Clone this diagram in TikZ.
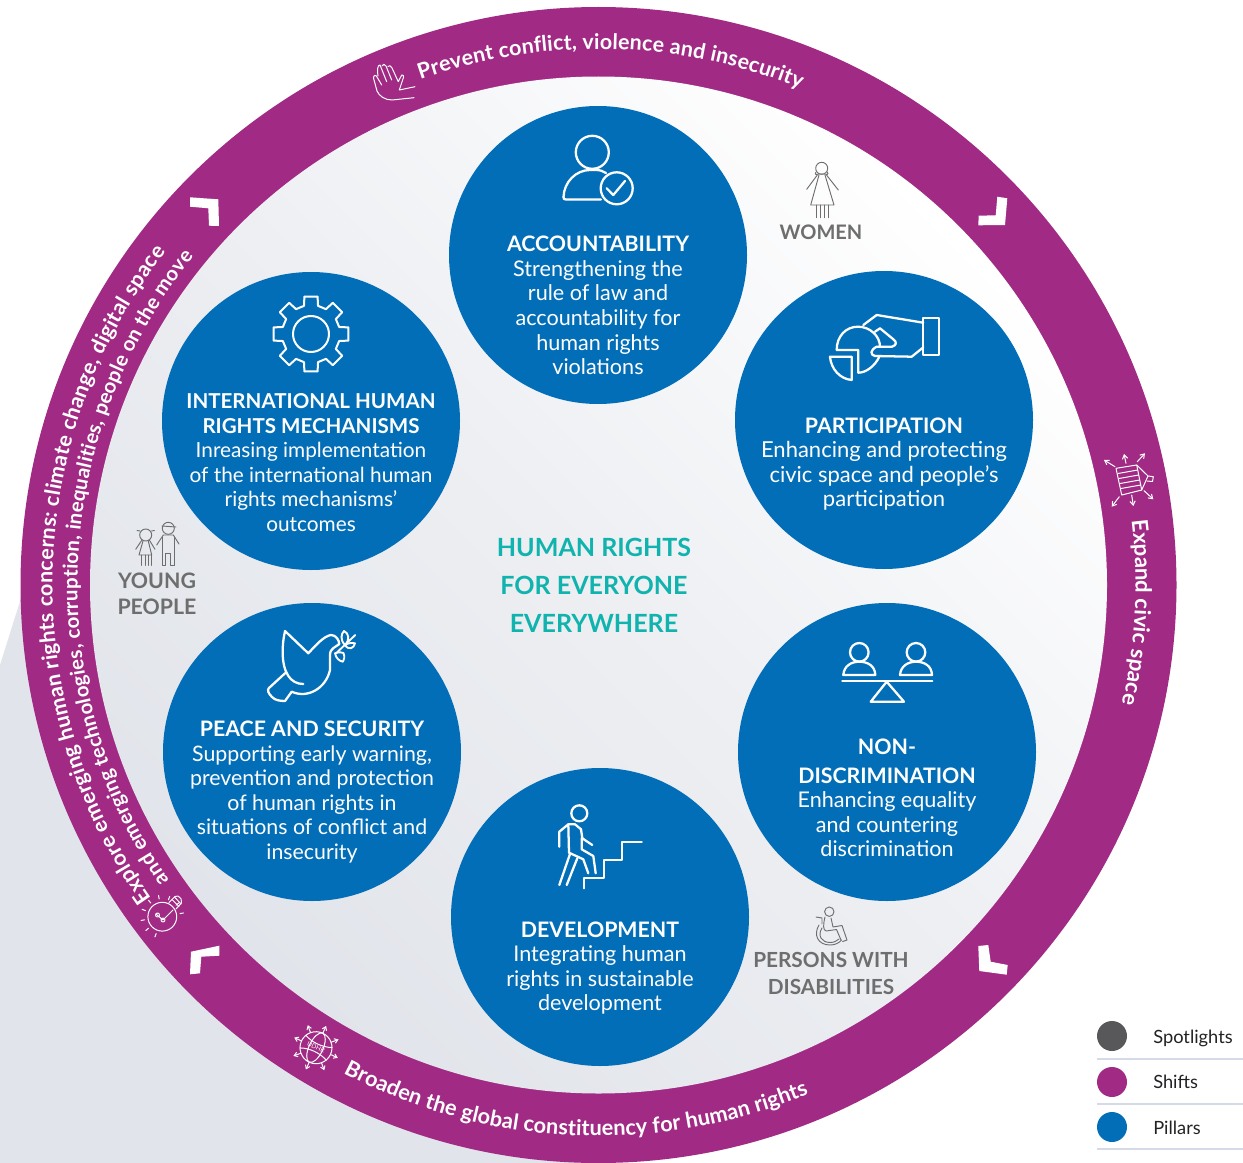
\documentclass[tikz,border=0pt]{standalone}
\usepackage{fontspec}
\setmainfont{Lato}
\usetikzlibrary{decorations.text,arrows.meta}
\definecolor{shift}{HTML}{A12A84}
\definecolor{pillarblue}{HTML}{036EB8}
\definecolor{teal}{HTML}{10B3AD}
\definecolor{spot}{HTML}{6E6E6E}
\definecolor{spotdot}{HTML}{58585A}
\definecolor{paleground}{HTML}{E1E4EA}
\definecolor{rulegrey}{HTML}{D5DAE6}
\definecolor{inkdark}{HTML}{222222}
\newcommand\ptitle[2][16]{{\fontsize{#1}{18.4}\selectfont\bfseries #2}}
\newcommand\ringline[5]{\path[decorate,decoration={text along path,text align={fit to path},text={|\fontsize{#5}{18}\selectfont\bfseries\color{white}|#4}}] (#1:#3) arc[start angle=#1,end angle=#2,radius=#3];}
\tikzset{
 pillar/.style={circle,fill=pillarblue,minimum size=223.5pt,inner sep=0pt},
 pillartext/.style={text=white,align=center,inner sep=0pt,font=\fontsize{16.2}{18.4}\selectfont},
 spotlabel/.style={text=spot,align=center,inner sep=0pt,font=\fontsize{15.6}{20.2}\selectfont\bfseries},
 legenddot/.style={circle,minimum size=22.5pt,inner sep=0pt},
 legendtext/.style={anchor=base west,text=inkdark,inner sep=0pt,font=\fontsize{13.7}{15}\selectfont},
 icon/.style={draw=white,line width=1.7pt,line join=round,line cap=round},
 thinicon/.style={draw=white,line width=0.75pt,line join=round,line cap=round},
 spoticon/.style={draw=spot,line width=0.7pt,line join=round,line cap=round},
 chevron/.style={fill=white},
 legendrule/.style={draw=rulegrey,line width=0.9pt}
}
\begin{document}
\begin{tikzpicture}[x=0.75pt,y=-0.75pt]
\useasboundingbox (0,0) rectangle (1243,1163);
% grey ground behind the ring
\fill[paleground] (0,665) -- (22,595) -- (598,585) -- (598,1163) -- (0,1163) -- cycle;
% ring and inner disc
\node[circle,fill=shift,minimum size=867pt,inner sep=0pt] (ring) at (598.5,585) {};
\shade[top color=white,bottom color=paleground,middle color=paleground!60!white,shading angle=-45] (598.5,585) circle[radius=508.5];
% pillars
\node[pillar] (acc) at (598,255) {};
\node[pillar] (par) at (884,420) {};
\node[pillar] (non) at (887,752) {};
\node[pillar] (dev) at (600,917) {};
\node[pillar] (pea) at (312,752) {};
\node[pillar] (int) at (311,421) {};
\node[pillartext] (acct) at (598,305.5) {\ptitle{ACCOUNTABILITY}\\Strengthening the\\rule of law and\\accountability for\\human rights\\violations};
\node[pillartext,font=\fontsize{16.5}{18.4}\selectfont] (part) at (884,464) {\ptitle{PARTICIPATION}\\Enhancing and protecting\\civic space and people’s\\participation};
\node[pillartext] (nont) at (887,798) {\ptitle{NON-}\\[3pt]\ptitle{DISCRIMINATION}\\Enhancing equality\\and countering\\discrimination};
\node[pillartext] (devt) at (600,968) {\ptitle{DEVELOPMENT}\\Integrating human\\rights in sustainable\\development};
\node[pillartext,font=\fontsize{16}{18.4}\selectfont] (peat) at (312,792) {\ptitle{PEACE AND SECURITY}\\Supporting early warning,\\prevention and protection\\of human rights in\\situations of conflict and\\insecurity};
\node[pillartext,font=\fontsize{15.6}{18.4}\selectfont] (intt) at (311,462.5) {\ptitle[15.4]{INTERNATIONAL HUMAN}\\\ptitle[15.4]{RIGHTS MECHANISMS}\\Inreasing implementation\\of the international human\\rights mechanisms’\\outcomes};
% centre
\node[text=teal,align=center,inner sep=0pt,font=\fontsize{18.8}{28.5}\selectfont\bfseries] (centre) at (594,585) {HUMAN RIGHTS\\FOR EVERYONE\\EVERYWHERE};
% spotlight labels
\node[spotlabel,font=\fontsize{15}{20}\selectfont\bfseries] (women) at (821,232) {WOMEN};
\node[spotlabel,font=\fontsize{16}{19.8}\selectfont\bfseries] (young) at (157,594) {YOUNG\\PEOPLE};
\node[spotlabel] (disab) at (831,973.5) {PERSONS WITH\\DISABILITIES};
% ring texts
\begin{scope}[shift={(598.5,585)},y=0.75pt]
\ringline{109.4}{67.9}{536}{Prevent conflict, violence and insecurity}{16.1}
\ringline{6.9}{-12.6}{537}{Expand civic space}{16.6}
\ringline{242.4}{292.4}{551}{Broaden the global constituency for human rights}{16.3}
\ringline{215}{142.5}{546}{Explore emerging human rights concerns: climate change, digital space}{16.1}
\ringline{214.5}{141}{521}{and emerging technologies, corruption, inequalities, people on the move}{15.3}
\end{scope}
% chevrons
\fill[chevron] (997.3,196.7) -- (1007.3,198.3) -- (1005,225) -- (978.3,225.3) -- (978.7,215.7) -- (995.7,215.3) -- cycle;
\fill[chevron] (190,197.3) -- (218.3,199.3) -- (219,226) -- (209,225.7) -- (208.3,208.3) -- (190,206.7) -- cycle;
\fill[chevron] (219.3,945.7) -- (191,951.7) -- (190,974.3) -- (200,973.3) -- (201.3,956.7) -- (219.3,955.7) -- cycle;
\fill[chevron] (978.3,946) -- (988.3,945) -- (990.7,961.7) -- (1007.7,965) -- (1006.7,974.7) -- (979.3,971) -- cycle;
% accountability icon
\draw[icon] (592.3,152.3) circle[radius=16.5];
\draw[icon] (563.5,197) .. controls (564,182) and (576,170) .. (590,170) -- (596,170) .. controls (600,170) and (603,171) .. (606,173);
\draw[icon] (563.5,197) .. controls (563.5,199) and (564,199.5) .. (566,199.5) -- (601,199.5);
\draw[icon] (616.7,188.3) circle[radius=16];
\draw[icon] (606.7,188.3) -- (613.3,195) -- (625,181);
% participation icon
\draw[icon] (923.3,318.3) rectangle (939,355);
\draw[icon] (863.3,325) -- (876.7,315) -- (923.3,322.7);
\draw[icon] (923.3,347.3) -- (911.7,356.7) -- (875,356) .. controls (870,355) and (870,350) .. (876.7,346.7) -- (892,346.7) .. controls (897,345) and (897,342) .. (893,339) -- (880,328.3) -- (875,331.7);
\draw[icon] (836.7,350) .. controls (836.7,336) and (846,326.7) .. (858,326.7) .. controls (870,326.7) and (880,336) .. (880,346.7);
\draw[icon] (836.7,350) -- (858.3,350) -- (858.3,372.7) .. controls (866,372.7) and (875,366) .. (879.3,356.7);
\draw[icon] (830,356.7) -- (851.7,356.7) -- (851.7,380) .. controls (840,379) and (831,369) .. (830,356.7) -- cycle;
% mechanisms icon
\draw[icon,line width=1.5pt] (311,334) circle[radius=18];
\begin{scope}[shift={(311,334)}]
\draw[icon,line width=1.5pt] (-14:29) \foreach \a in {0,45,...,315}{ -- ({\a-14}:29) -- ({\a-10}:38) -- ({\a+10}:38) -- ({\a+14}:29)} -- cycle;
\end{scope}
% non-discrimination icon
\draw[icon] (859.3,652.3) circle[radius=9.3];
\draw[icon] (916,652.3) circle[radius=9.3];
\draw[icon] (843.3,675) .. controls (844,666) and (851,661.7) .. (859.3,661.7) .. controls (868,661.7) and (875,666) .. (875.3,675) -- cycle;
\draw[icon] (900,675) .. controls (900.7,666) and (908,661.7) .. (916,661.7) .. controls (924.5,661.7) and (931.7,666) .. (932,675) -- cycle;
\draw[icon] (842.3,680.7) -- (932.3,680.7);
\draw[icon] (886.7,681.7) -- (870.7,701.7) -- (904,701.7) -- cycle;
% development icon
\draw[icon] (579.3,813.3) circle[radius=8];
\draw[icon] (559.3,846.7) -- (559.3,831.7) -- (568.3,824.3) -- (575,824.3) -- (581,829.3) -- (582.3,838.3) -- (592.3,845);
\draw[icon] (568.3,824.3) -- (569,852.7) -- (583.3,859.3) -- (588.3,873.3);
\draw[icon] (581.7,838) -- (581.7,849.3) -- (593.3,856) -- (595.7,873.3);
\draw[icon] (570,854) -- (559.3,885);
\draw[icon] (577.3,858.3) -- (566.7,885);
\draw[icon] (584.3,888.3) -- (584.3,878.3) -- (604,878.3) -- (604,860) -- (622.3,860) -- (622.3,841.7) -- (641.7,841.7);
% peace icon
\draw[icon] (303.3,684) .. controls (290,684) and (283,672) .. (282.7,653.3) .. controls (282.5,645) and (283.5,638) .. (285,631) -- (308.3,653.3) .. controls (316,645) and (324,636) .. (331,635) .. controls (336,635) and (339,640) .. (339.3,644) .. controls (336,647) and (330,648) .. (330,655) -- (330,670) .. controls (326,688) and (308,699) .. (291.7,691.7) -- (285,701) .. controls (279,701) and (275,700) .. (272,697) .. controls (268,693) and (267,690) .. (269,688) -- (285,673.3);
\draw[icon,line width=1.4pt] (336,653.3) -- (355.3,635);
\draw[icon,line width=1.4pt] (345,645) .. controls (340,640) and (341,634) .. (344,631) .. controls (349,633) and (350,640) .. (345,645) -- cycle;
\draw[icon,line width=1.4pt] (345,645) .. controls (348,643) and (352,642.5) .. (355,643.3) .. controls (354,648) and (349,651) .. (345,645) -- cycle;
\draw[icon,line width=1.4pt] (335,653.3) .. controls (339,652) and (342,652) .. (343.5,653) .. controls (345,657) and (344,660) .. (343,661.7) .. controls (339,661) and (336,658) .. (335,653.3) -- cycle;
% women icon
\draw[spoticon] (821.7,168.3) circle[radius=6];
\draw[spoticon] (816,172) .. controls (814,175) and (817,175) .. (819,174) -- (824.5,174) .. controls (826,175) and (829,175) .. (827.5,172);
\draw[spoticon] (819,175) -- (810.7,205) -- (834,205) -- (825,175);
\draw[spoticon] (817.3,175) -- (806.7,189.3);
\draw[spoticon] (826.5,175) -- (838.3,190);
\draw[spoticon] (816.7,205) -- (816.7,217.7) (820.7,205) -- (820.7,217.7) (824,205) -- (824,217.7) (828.3,205) -- (828.3,217.7);
% young people icon
\draw[spoticon] (145.7,535) circle[radius=6];
\draw[spoticon] (140,531) -- (137,530.5) (151.5,531) -- (154.5,530.5);
\draw[spoticon] (143,541) -- (139,555) -- (151.7,555) -- (148.3,541);
\draw[spoticon] (142,540) -- (135.7,549.3) (149.3,540) -- (155,549.3);
\draw[spoticon] (141.7,555) -- (141.7,565.5) (145,555) -- (145,565.5) (148.3,555) -- (148.3,565.5) (151.7,555) -- (151.7,565.5);
\draw[spoticon] (168.3,528.3) circle[radius=6];
\draw[spoticon] (162,526) -- (176,527);
\draw[spoticon] (156.7,545) -- (163.3,535) -- (173.3,535) -- (179,544);
\draw[spoticon] (162.3,537) -- (162.3,565) -- (165.7,565) -- (165.7,553) -- (170,553) -- (170,565) -- (174,565) -- (174,537);
% wheelchair icon
\draw[spoticon] (829.3,911.7) circle[radius=4.7];
\draw[spoticon] (825,917) .. controls (823,925) and (823,930) .. (826,931) -- (836.5,929.5) -- (841,940);
\draw[spoticon] (831,918) -- (833,927) -- (842,925.5) -- (847,940) -- (842.5,941.5);
\draw[spoticon] (816,917) -- (822,918) -- (822,924);
\draw[spoticon] (819,925) .. controls (813,935) and (818,945) .. (830,945) .. controls (835,945) and (839,943) .. (841.5,940);
\draw[spoticon] (822,928) .. controls (817,936) and (822,942.5) .. (830,942.5) .. controls (834,942.5) and (837,941) .. (839,939);
% hand icon
\draw[thinicon] (414,97.7) -- (392,100) .. controls (385,100) and (379,96) .. (377,91) -- (373.5,78) .. controls (373.5,75) and (376,74.5) .. (377,77) -- (381.7,85);
\draw[thinicon] (378,76) .. controls (377,70) and (377.5,65) .. (380,65) -- (386.7,81.7);
\draw[thinicon] (382,66) .. controls (382.5,63.5) and (385,64) .. (386,66) -- (391.7,80);
\draw[thinicon] (388,66.5) .. controls (389,64.5) and (391,66) .. (392,68) -- (398.3,81.7) -- (401.7,75) .. controls (403,74) and (404,76) .. (403.3,78) -- (399.3,90) -- (415,86.7);
% civic space icon
\begin{scope}[thinicon]
\draw (1116,468.3) -- (1136.7,465) -- (1141.7,490) -- (1121.7,495) -- cycle;
\draw (1118,473.5) -- (1137.7,470) (1119,478.5) -- (1138.7,475) (1120,483.5) -- (1139.7,480) (1121,488.5) -- (1140.7,485);
\draw (1136.7,465) -- (1148,476) -- (1141.7,490);
\draw (1148,476) -- (1153.3,476.7) -- (1152.5,481.5) -- (1147,481);
\draw[-{Straight Barb[length=3pt,width=4pt]}] (1115,466.7) -- (1104,460);
\draw[-{Straight Barb[length=3pt,width=4pt]}] (1126,463.3) -- (1124,454);
\draw[-{Straight Barb[length=3pt,width=4pt]}] (1137.3,461.7) -- (1145,453.3);
\draw[-{Straight Barb[length=3pt,width=4pt]}] (1144,490.7) -- (1153.3,499.3);
\draw[-{Straight Barb[length=3pt,width=4pt]}] (1131.7,495) -- (1133.3,506);
\draw[-{Straight Barb[length=3pt,width=4pt]}] (1119.3,496.7) -- (1111.7,506.7);
\end{scope}
% bulb icon
\begin{scope}[thinicon]
\draw (162.3,916.7) circle[radius=14.4];
\draw (169,902.5) -- (175,896.5) -- (178,896) .. controls (181,897) and (182,900) .. (181.5,903) -- (176,909);
\draw (172,899.5) -- (179,906.5) (174.5,897) -- (181,904);
\draw (156.5,914.5) -- (163,920) (163,920) -- (173,910);
\draw (157.5,915) circle[radius=2] (163,920) circle[radius=2];
\foreach \a in {110,140,170,200,230,260,290,320,350}{\draw (162.3,916.7) ++({\a}:18) -- ++({\a}:3.5);}
\end{scope}
% globe icon
\begin{scope}[thinicon,shift={(316,1047.7)},rotate=-25]
\draw (0,0) circle[radius=16];
\draw (0,0) ellipse[x radius=7,y radius=16];
\draw (-14.5,-7) .. controls (-6,-3) and (6,-3) .. (14.5,-7);
\draw (-14.5,7) .. controls (-6,3) and (6,3) .. (14.5,7);
\foreach \a in {0,45,...,315}{\draw[-{Straight Barb[length=2.5pt,width=3.5pt]}] ({\a}:16) -- ({\a}:24);}
\end{scope}
\node[text=white,inner sep=0pt,rotate=-25,font=\fontsize{4.8}{5}\selectfont] (udhr) at (316,1047.7) {UDHR};
% legend
\node[legenddot,fill=spotdot] (d1) at (1112,1036) {};
\node[legenddot,fill=shift] (d2) at (1112,1082) {};
\node[legenddot,fill=pillarblue] (d3) at (1112,1127) {};
\node[legendtext] (l1) at (1153,1043) {Spotlights};
\node[legendtext] (l2) at (1153,1088.3) {Shifts};
\node[legendtext] (l3) at (1153,1134) {Pillars};
\coordinate (r1a) at (1097,1059); \coordinate (r1b) at (1243,1059);
\coordinate (r2a) at (1097,1104); \coordinate (r2b) at (1243,1104);
\coordinate (r3a) at (1097,1149); \coordinate (r3b) at (1243,1149);
\draw[legendrule] (r1a) -- (r1b);
\draw[legendrule] (r2a) -- (r2b);
\draw[legendrule] (r3a) -- (r3b);
\end{tikzpicture}
\end{document}
